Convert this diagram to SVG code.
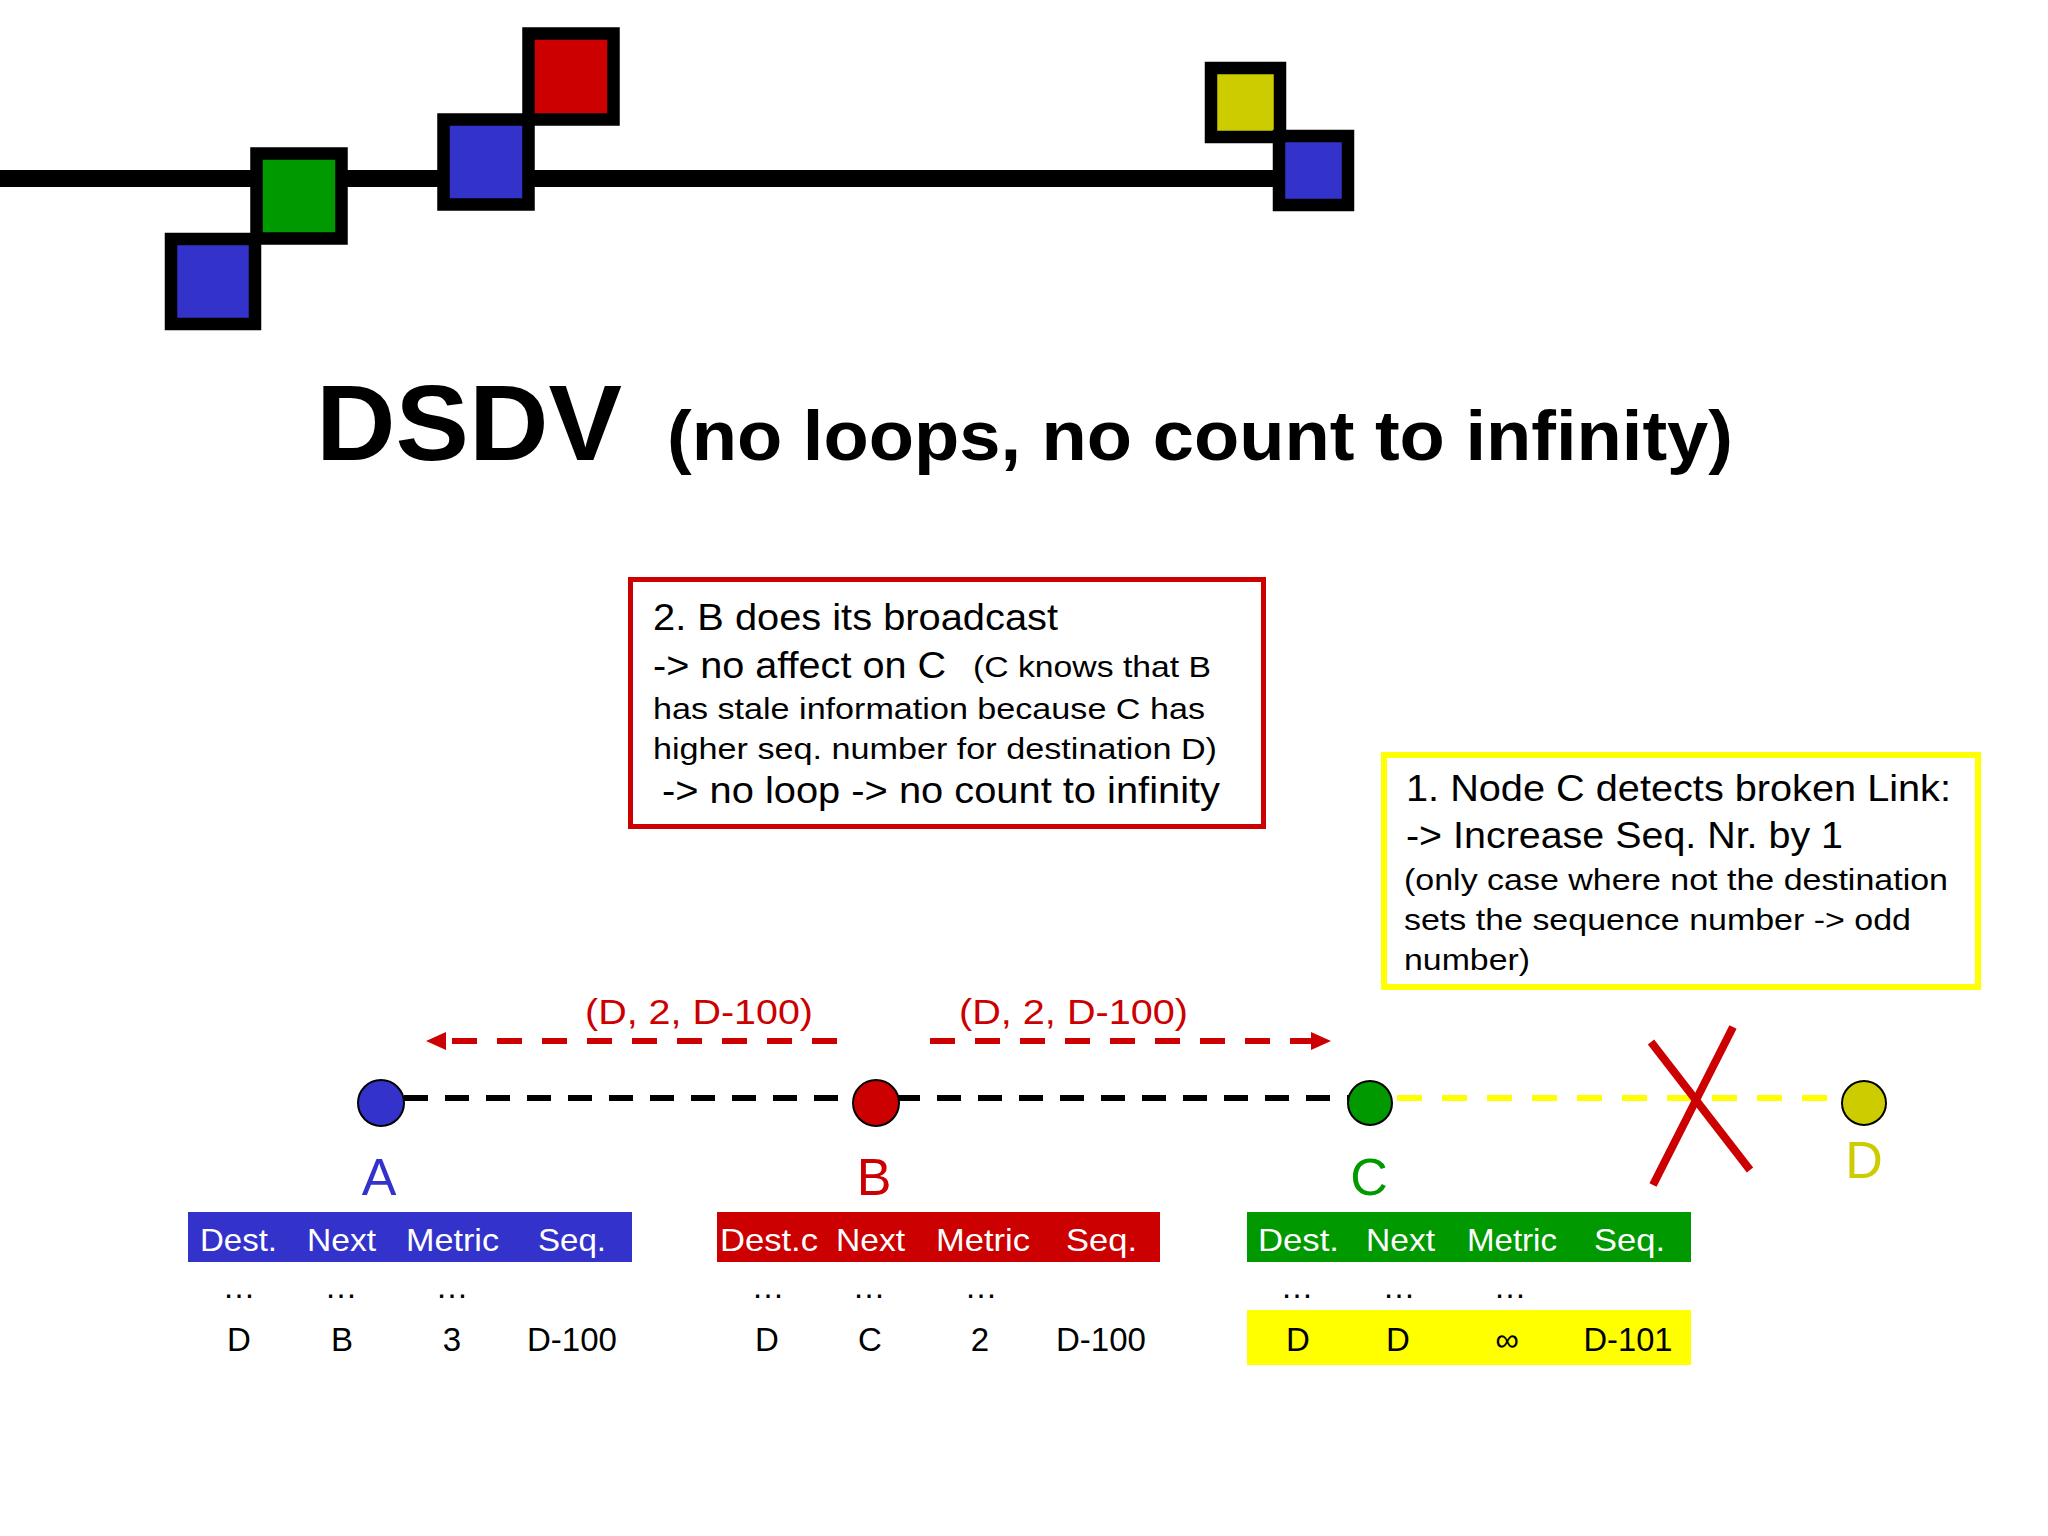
<svg xmlns="http://www.w3.org/2000/svg" width="2048" height="1536" viewBox="0 0 2048 1536">
<defs>
<style>
.t{font-family:"Liberation Sans",Arial,sans-serif;}
.sq{stroke:#000;stroke-width:12.5;}
.big{font-size:36px;fill:#000;}
.sm{font-size:30px;fill:#000;}
.hd{font-size:32px;fill:#fff;}
.cell{font-size:33px;fill:#000;text-anchor:middle;}
.lbl{font-size:52px;text-anchor:middle;}
.node{stroke:#000;stroke-width:2;}
</style>
<marker id="ah" viewBox="0 0 20 18" markerWidth="20" markerHeight="18" refX="0" refY="9" orient="auto" markerUnits="userSpaceOnUse">
<path d="M0,0 L20,9 L0,18 Z" fill="#cc0000"/>
</marker>
</defs>
<rect width="2048" height="1536" fill="#fff"/>

<g id="logo">
<rect x="0" y="170" width="1280" height="17" fill="#000"/>
<rect class="sq" x="171" y="239" width="84" height="85" fill="#3333cc"/>
<rect class="sq" x="256.5" y="153.5" width="85" height="85" fill="#009900"/>
<rect class="sq" x="443.5" y="119.5" width="85" height="85" fill="#3333cc"/>
<rect class="sq" x="528.5" y="33.5" width="85" height="86" fill="#cc0000"/>
<rect class="sq" x="1211" y="68" width="69" height="69" fill="#cccc00"/>
<rect class="sq" x="1279" y="136" width="69" height="69" fill="#3333cc"/>
</g>

<g id="title" class="t" font-weight="bold" fill="#000">
<text x="316" y="460" font-size="107" textLength="306" lengthAdjust="spacingAndGlyphs">DSDV</text>
<text x="667" y="460" font-size="71" textLength="1066" lengthAdjust="spacingAndGlyphs">(no loops, no count to infinity)</text>
</g>

<g id="note-broadcast" class="t">
<rect x="630.5" y="579.5" width="633" height="247" fill="#fff" stroke="#cc0000" stroke-width="5"/>
<text class="big" x="653" y="630" textLength="405" lengthAdjust="spacingAndGlyphs">2. B does its broadcast</text>
<text class="big" x="653" y="678" textLength="293" lengthAdjust="spacingAndGlyphs">-&gt; no affect on C</text>
<text class="sm" x="973" y="677" textLength="238" lengthAdjust="spacingAndGlyphs">(C knows that B</text>
<text class="sm" x="653" y="719" textLength="552" lengthAdjust="spacingAndGlyphs">has stale information because C has</text>
<text class="sm" x="653" y="759" textLength="564" lengthAdjust="spacingAndGlyphs">higher seq. number for destination D)</text>
<text class="big" x="662" y="803" textLength="558" lengthAdjust="spacingAndGlyphs">-&gt; no loop -&gt; no count to infinity</text>
</g>

<g id="note-broken-link" class="t">
<rect x="1384" y="755" width="594" height="232" fill="#fff" stroke="#ffff00" stroke-width="6"/>
<text class="big" x="1406" y="801" textLength="545" lengthAdjust="spacingAndGlyphs">1. Node C detects broken Link:</text>
<text class="big" x="1406" y="848" textLength="437" lengthAdjust="spacingAndGlyphs">-&gt; Increase Seq. Nr. by 1</text>
<text class="sm" x="1404" y="890" textLength="544" lengthAdjust="spacingAndGlyphs">(only case where not the destination</text>
<text class="sm" x="1404" y="930" textLength="507" lengthAdjust="spacingAndGlyphs">sets the sequence number -&gt; odd</text>
<text class="sm" x="1404" y="970" textLength="126" lengthAdjust="spacingAndGlyphs">number)</text>
</g>

<g id="connectors">
<line x1="404" y1="1098" x2="1350" y2="1098" stroke="#000" stroke-width="6" stroke-dasharray="24 17"/>
<line x1="1392" y1="1098" x2="1842" y2="1098" stroke="#ffff00" stroke-width="6" stroke-dasharray="25 20" stroke-dashoffset="-5"/>
<line x1="837" y1="1041" x2="446" y2="1041" stroke="#cc0000" stroke-width="6" stroke-dasharray="25 20" marker-end="url(#ah)"/>
<line x1="930" y1="1041" x2="1311" y2="1041" stroke="#cc0000" stroke-width="6" stroke-dasharray="25 20" marker-end="url(#ah)"/>
<g class="t" font-size="35" fill="#cc0000">
<text x="585" y="1024" textLength="228" lengthAdjust="spacingAndGlyphs">(D, 2, D-100)</text>
<text x="959" y="1024" textLength="229" lengthAdjust="spacingAndGlyphs">(D, 2, D-100)</text>
</g>
<g id="broken-mark" stroke="#cc0000" stroke-width="8">
<line x1="1651" y1="1042" x2="1750" y2="1170"/>
<line x1="1733" y1="1027" x2="1653" y2="1185"/>
</g>
</g>

<g id="node-A">
<circle class="node" cx="381" cy="1103" r="23" fill="#3333cc"/>
<text class="t lbl" x="379" y="1195" fill="#3333cc">A</text>
</g>
<g id="node-B">
<circle class="node" cx="876" cy="1103" r="23" fill="#cc0000"/>
<text class="t lbl" x="874" y="1195" fill="#cc0000">B</text>
</g>
<g id="node-C">
<circle class="node" cx="1370" cy="1103" r="22" fill="#009900"/>
<text class="t lbl" x="1369" y="1195" fill="#009900">C</text>
</g>
<g id="node-D">
<circle class="node" cx="1864" cy="1103" r="22" fill="#cccc00"/>
<text class="t lbl" x="1864" y="1178" fill="#cccc00">D</text>
</g>

<g id="table-A" class="t">
<rect x="188" y="1212" width="444" height="50" fill="#3333cc"/>
<text class="hd" x="200" y="1251" textLength="77" lengthAdjust="spacingAndGlyphs">Dest.</text>
<text class="hd" x="307" y="1251" textLength="69" lengthAdjust="spacingAndGlyphs">Next</text>
<text class="hd" x="406" y="1251" textLength="93" lengthAdjust="spacingAndGlyphs">Metric</text>
<text class="hd" x="538" y="1251" textLength="68" lengthAdjust="spacingAndGlyphs">Seq.</text>
<text class="cell" x="239" y="1298">…</text>
<text class="cell" x="341" y="1298">…</text>
<text class="cell" x="452" y="1298">…</text>
<text class="cell" x="239" y="1351">D</text>
<text class="cell" x="342" y="1351">B</text>
<text class="cell" x="452" y="1351">3</text>
<text class="cell" x="572" y="1351" textLength="90" lengthAdjust="spacingAndGlyphs">D-100</text>
</g>

<g id="table-B" class="t">
<rect x="717" y="1212" width="443" height="50" fill="#cc0000"/>
<text class="hd" x="720" y="1251" textLength="98" lengthAdjust="spacingAndGlyphs">Dest.c</text>
<text class="hd" x="836" y="1251" textLength="69" lengthAdjust="spacingAndGlyphs">Next</text>
<text class="hd" x="936" y="1251" textLength="94" lengthAdjust="spacingAndGlyphs">Metric</text>
<text class="hd" x="1066" y="1251" textLength="71" lengthAdjust="spacingAndGlyphs">Seq.</text>
<text class="cell" x="768" y="1298">…</text>
<text class="cell" x="869" y="1298">…</text>
<text class="cell" x="981" y="1298">…</text>
<text class="cell" x="767" y="1351">D</text>
<text class="cell" x="870" y="1351">C</text>
<text class="cell" x="980" y="1351">2</text>
<text class="cell" x="1101" y="1351" textLength="90" lengthAdjust="spacingAndGlyphs">D-100</text>
</g>

<g id="table-C" class="t">
<rect x="1247" y="1212" width="444" height="50" fill="#009900"/>
<rect x="1247" y="1310" width="444" height="55" fill="#ffff00"/>
<text class="hd" x="1258" y="1251" textLength="81" lengthAdjust="spacingAndGlyphs">Dest.</text>
<text class="hd" x="1366" y="1251" textLength="69" lengthAdjust="spacingAndGlyphs">Next</text>
<text class="hd" x="1467" y="1251" textLength="90" lengthAdjust="spacingAndGlyphs">Metric</text>
<text class="hd" x="1594" y="1251" textLength="71" lengthAdjust="spacingAndGlyphs">Seq.</text>
<text class="cell" x="1297" y="1298">…</text>
<text class="cell" x="1399" y="1298">…</text>
<text class="cell" x="1510" y="1298">…</text>
<text class="cell" x="1298" y="1351">D</text>
<text class="cell" x="1398" y="1351">D</text>
<text class="cell" x="1507" y="1351">∞</text>
<text class="cell" x="1628" y="1351" textLength="89" lengthAdjust="spacingAndGlyphs">D-101</text>
</g>
</svg>
